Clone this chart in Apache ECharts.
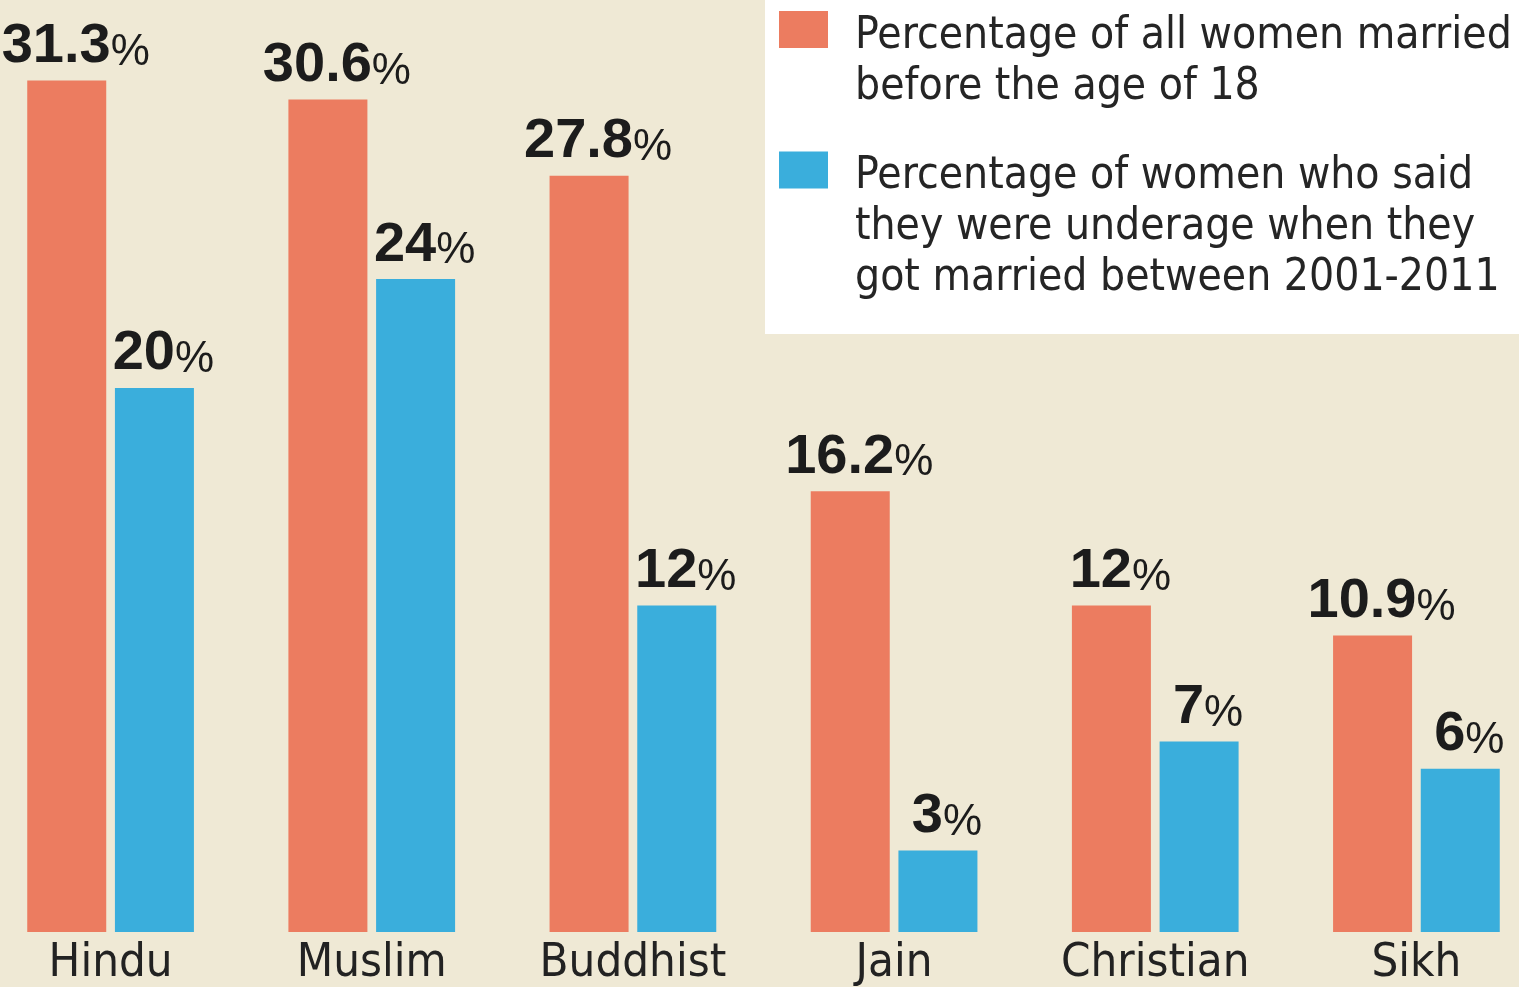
<!DOCTYPE html>
<html>
<head>
<meta charset="utf-8">
<script src="https://cdn.jsdelivr.net/npm/echarts@6/dist/echarts.min.js"></script>
<style>
  html, body { margin: 0; padding: 0; background: #efe9d5; overflow: hidden; }
  /* chart is a bit wider than the window so the outer bars sit on the edges */
  #chart { width: 1567px; height: 987px; margin-left: -20px; }
</style>
</head>
<body>
<div id="chart"></div>
<script>
  var categories = ['Hindu', 'Muslim', 'Buddhist', 'Jain', 'Christian', 'Sikh'];
  var allMarried = [31.3, 30.6, 27.8, 16.2, 12, 10.9];
  var underage = [20, 24, 12, 3, 7, 6];
  var seriesNames = [
    'Percentage of all women married\nbefore the age of 18',
    'Percentage of women who said\nthey were underage when they\ngot married between 2001-2011'
  ];
  var colors = ['#ec7c60', '#3aaedc'];

  var FONT = "'DejaVu Sans Condensed', sans-serif";
  var NUM_FONT = "'Liberation Sans', Arial, sans-serif";

  var chart = echarts.init(document.getElementById('chart'));

  function valueLabel() {
    return {
      show: true,
      position: 'top',
      distance: 6,
      offset: [9, 0],
      formatter: function (p) {
        return '{n|' + p.value + '}{p|%}';
      },
      rich: {
        n: { fontFamily: NUM_FONT, fontSize: 56, fontWeight: 'bold', color: '#1c1c1c', lineHeight: 56 },
        p: { fontFamily: NUM_FONT, fontSize: 44, color: '#1c1c1c', lineHeight: 44, verticalAlign: 'bottom' }
      }
    };
  }

  var option = {
    backgroundColor: '#efe9d5',
    animation: false,
    grid: { left: 0, right: 0, top: 0, bottom: 55, containLabel: false },
    legend: {
      left: 785,
      top: 0,
      orient: 'vertical',
      icon: 'none',
      itemWidth: 0,
      itemGap: 42,
      padding: [11, 60, 33, 9],
      backgroundColor: '#ffffff',
      selectedMode: false,
      data: seriesNames,
      formatter: function (name) {
        var idx = seriesNames.indexOf(name);
        return name.split('\n').map(function (line, i) {
          return (i === 0 ? '{box' + idx + '|}' : '{sp|}') + '{t|' + line + '}';
        }).join('\n');
      },
      textStyle: {
        rich: {
          box0: { width: 49, height: 37, backgroundColor: colors[0], verticalAlign: 'top' },
          box1: { width: 49, height: 37, backgroundColor: colors[1], verticalAlign: 'top' },
          sp: { width: 49, lineHeight: 51 },
          t: { fontFamily: FONT, fontSize: 44, color: '#252525', lineHeight: 51, padding: [0, 0, 0, 27] }
        }
      }
    },
    xAxis: {
      type: 'category',
      data: categories,
      axisLine: { show: false },
      axisTick: { show: false },
      axisLabel: { interval: 0, margin: 8, fontFamily: FONT, fontSize: 47, color: '#222' }
    },
    yAxis: {
      type: 'value',
      min: 0,
      max: 34.26,
      show: false,
      splitLine: { show: false }
    },
    series: [
      {
        name: seriesNames[0],
        type: 'bar',
        data: allMarried,
        barWidth: 79,
        barGap: '11%',
        itemStyle: { color: colors[0] },
        label: valueLabel()
      },
      {
        name: seriesNames[1],
        type: 'bar',
        data: underage,
        barWidth: 79,
        barGap: '11%',
        itemStyle: { color: colors[1] },
        label: valueLabel()
      }
    ]
  };

  chart.setOption(option);
</script>
</body>
</html>
